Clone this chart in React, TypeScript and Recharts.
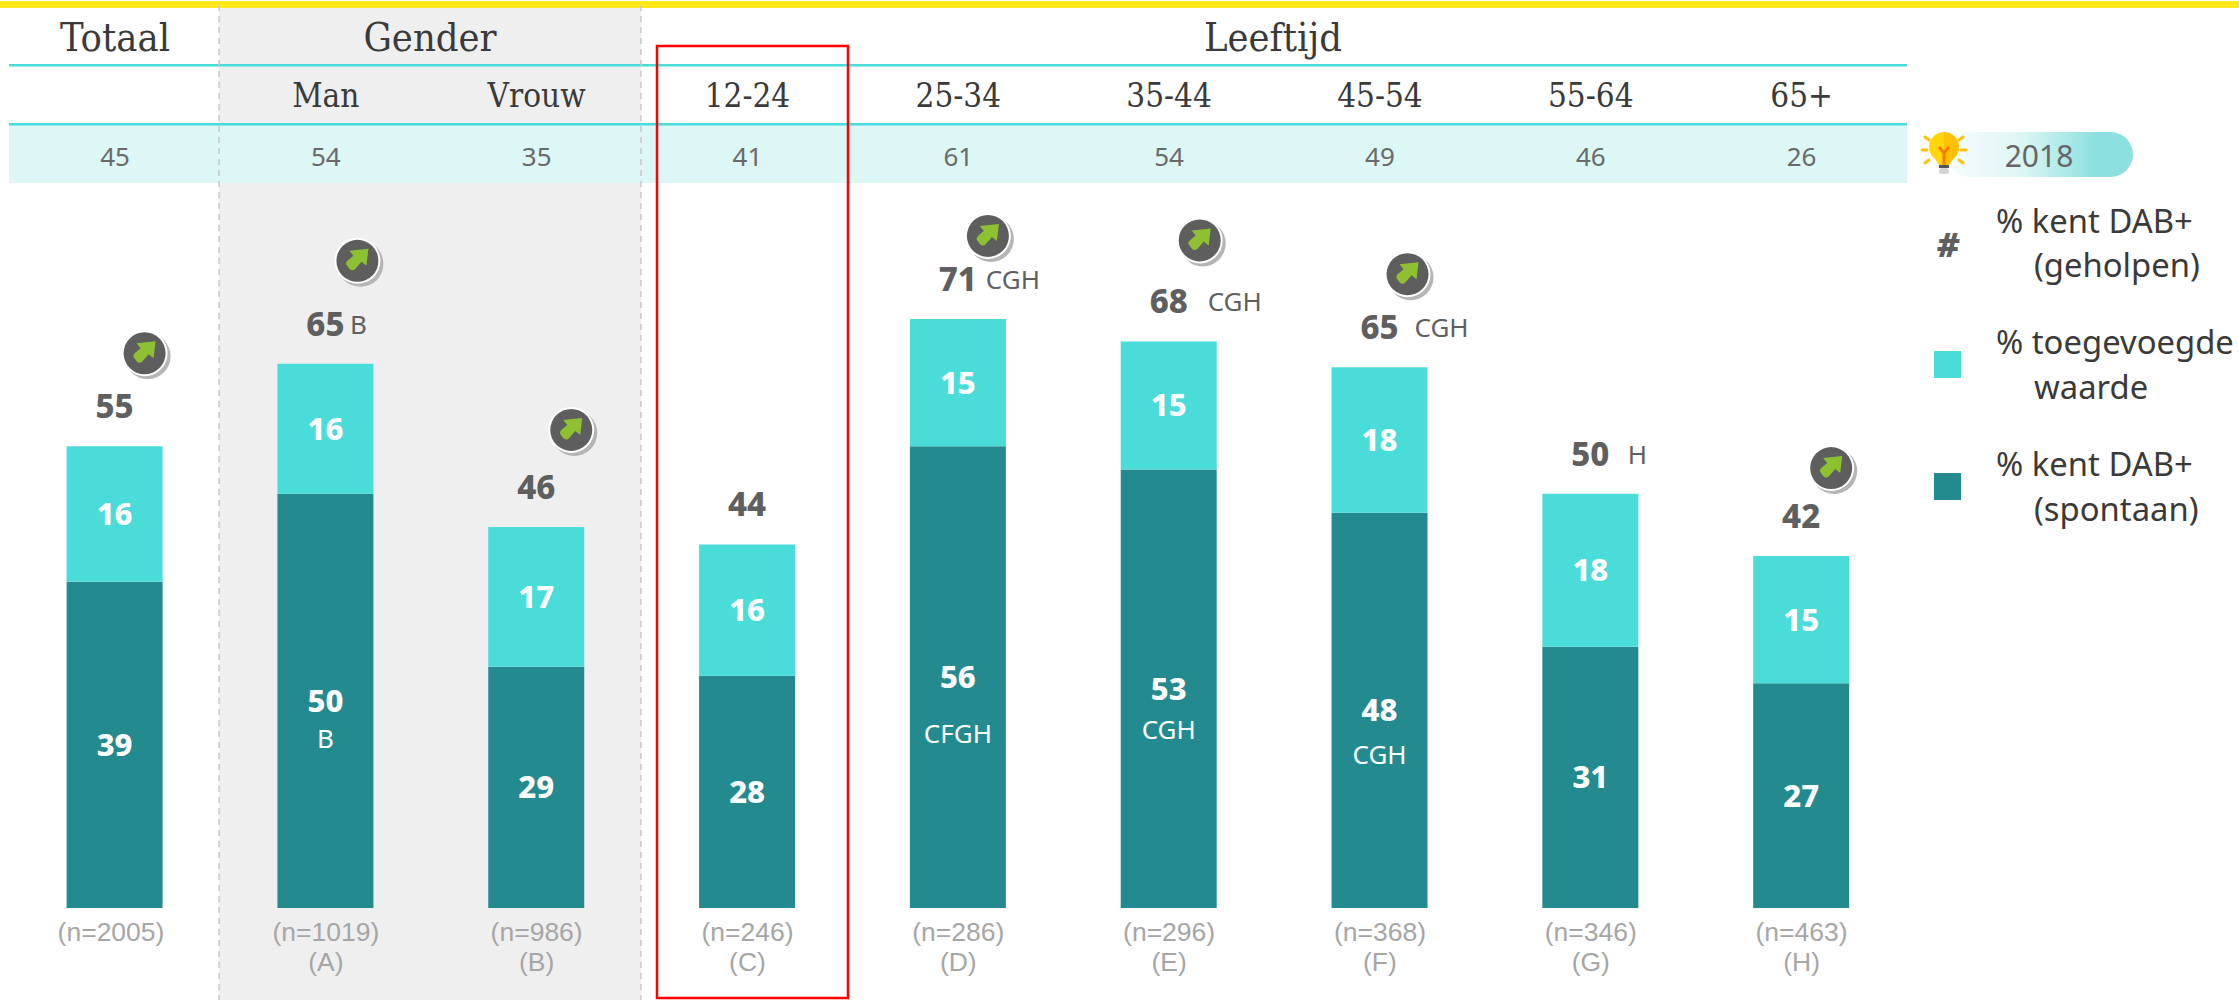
import React from 'react';
import { ComposedChart, Bar, XAxis, YAxis, LabelList } from 'recharts';

const columns = ['', 'Man', 'Vrouw', '12-24', '25-34', '35-44', '45-54', '55-64', '65+'];
const spontaneous = [39.2, 49.8, 29.0, 27.9, 55.5, 52.7, 47.5, 31.4, 27.0];
const added = [16.3, 15.6, 16.8, 15.8, 15.3, 15.4, 17.5, 18.4, 15.3];
const aided = [55, 65, 46, 44, 71, 68, 65, 50, 42];
const previous = [45, 54, 35, 41, 61, 54, 49, 46, 26];
const sampleSizes = ['(n=2005)', '(n=1019)', '(n=986)', '(n=246)', '(n=286)', '(n=296)', '(n=368)', '(n=346)', '(n=463)'];
const groupLetters = ['', '(A)', '(B)', '(C)', '(D)', '(E)', '(F)', '(G)', '(H)'];
const aidedSig = ['', 'B', '', '', 'CGH', 'CGH', 'CGH', 'H', ''];
const spontaneousSig = ['', 'B', '', '', 'CFGH', 'CGH', 'CGH', '', ''];

// annotation placement per column, relative to the top of the bar
const aidedSigDx = [0, 33, 0, 0, 55, 66, 62, 47, 0];
const spontaneousSigDy = [0, 37, 0, 0, 56, 40, 44, 0, 0];
const badgeDx = [30, 32, 35, 0, 30, 31, 28, 0, 30];
const badgeDy = [-93, -103, -97, 0, -83, -101, -93, 0, -88];
const hasBadge = [true, true, true, false, true, true, true, false, true];

const DARK = '#238B8F';
const LIGHT = '#4ADCD9';
const BAND = '#DCF7F5';
const GREY = '#5F5F5F';
const HEAD = '#3A3A3A';
const SANS = '"Noto Sans", sans-serif';
const SLAB = '"DejaVu Serif Condensed", "DejaVu Serif", serif';

const rows = columns.map((name, i) => ({
  name: name || 'Totaal',
  spontaneous: spontaneous[i],
  added: added[i],
}));

const ColumnTick = ({ x, index }: any) => (
  <g textAnchor="middle">
    <text x={x} y={107} fontFamily={SLAB} fontSize={33} fill={HEAD}>{columns[index]}</text>
    <text x={x} y={166} fontFamily={SANS} fontSize={26} fill="#6A6A6A">{previous[index]}</text>
    <text x={index === 0 ? x - 4 : x} y={941} fontFamily="Liberation Sans" fontSize={26.5} fill="#A6A6A6">{sampleSizes[index]}</text>
    <text x={x} y={971} fontFamily="Liberation Sans" fontSize={26.5} fill="#A6A6A6">{groupLetters[index]}</text>
  </g>
);

const InnerLabel = ({ x, y, width, height, value, index, sig }: any) => (
  <g textAnchor="middle" fill="#fff">
    <text x={x + width / 2} y={y + height / 2 + 11} fontFamily={SANS} fontSize={31} fontWeight={800}>
      {Math.round(value)}
    </text>
    {sig && sig[index] ? (
      <text x={x + width / 2} y={y + height / 2 + 10 + spontaneousSigDy[index]} fontFamily={SANS} fontSize={26}>
        {sig[index]}
      </text>
    ) : null}
  </g>
);

const Badge = ({ cx, cy }: any) => (
  <g transform={`translate(${cx},${cy})`}>
    <circle cx={3} cy={3} r={23} fill="#B5B5B5" />
    <circle r={23} fill="#fff" />
    <circle r={21} fill="#5E5E5E" />
    <path d="M11,-12 L9,5 L4,1 L-2,8 Q-5,11 -8,8 L-11,4 Q-12,2 -10,0 L-4,-5 L-8,-10 Z" fill="#8DC131" />
  </g>
);

const TopLabel = ({ x, y, width, index }: any) => {
  const cx = x + width / 2;
  return (
    <g>
      <text x={cx} y={y - 28} textAnchor="middle" fontFamily={SANS} fontSize={33} fontWeight={800} fill={GREY}>
        {aided[index]}
      </text>
      {aidedSig[index] ? (
        <text x={cx + aidedSigDx[index]} y={y - 30} textAnchor="middle" fontFamily={SANS} fontSize={26} fill={GREY}>
          {aidedSig[index]}
        </text>
      ) : null}
      {hasBadge[index] ? <Badge cx={cx + badgeDx[index]} cy={y + badgeDy[index]} /> : null}
    </g>
  );
};

const Bulb = () => (
  <g transform="translate(1944,150)">
    <g stroke="#FFC107" strokeWidth={3} strokeLinecap="round">
      <path d="M-22,0 H-17 M17,0 H22 M-19,-13 L-15,-10 M19,-13 L15,-10 M-19,13 L-15,10 M19,13 L15,10" />
    </g>
    <path d="M0,-18 A15,15 0 0 0 -9,9 L-5,15 H5 L9,9 A15,15 0 0 0 0,-18 Z" fill="#FFD60A" />
    <path d="M0,-18 A15,15 0 0 1 9,9 L5,15 H0 Z" fill="#FFC107" />
    <path d="M-5,-3 L0,3 L5,-3 M0,3 V15" stroke="#F57C00" strokeWidth={3} fill="none" />
    <rect x={-5} y={15} width={10} height={3} fill="#555" />
    <rect x={-5} y={18} width={10} height={6} rx={3} fill="#D5D5D5" />
  </g>
);

const Backdrop = () => (
  <svg width={2239} height={1000} style={{ position: 'absolute', left: 0, top: 0 }}>
    <defs>
      <linearGradient id="pill" x1="0" x2="1" y1="0" y2="0">
        <stop offset="0" stopColor="#F6FDFC" />
        <stop offset="0.4" stopColor="#DDF6F5" />
        <stop offset="0.8" stopColor="#8CE0DF" />
        <stop offset="1" stopColor="#8CE0DF" />
      </linearGradient>
    </defs>
    <rect x={219} y={8} width={422} height={992} fill="#EFEFEF" />
    <rect x={0} y={1} width={2239} height={7} fill="#FFE81A" />
    <rect x={9} y={124} width={1898} height={59} fill={BAND} />
    <rect x={9} y={64} width={1898} height={2.5} fill={LIGHT} />
    <rect x={9} y={123} width={1898} height={2.5} fill={LIGHT} />
    <path d="M219,5 V1000 M641,5 V1000" stroke="#C8C8C8" strokeWidth={1.5} strokeDasharray="6 5" />
    <g textAnchor="middle" fontFamily={SLAB} fontSize={39.5} fill={HEAD}>
      <text x={115} y={51}>Totaal</text>
      <text x={430} y={51}>Gender</text>
      <text x={1273} y={51}>Leeftijd</text>
    </g>
    <rect x={657} y={46} width={191} height={952} fill="none" stroke="#FF0000" strokeWidth={2.5} />

    <rect x={1947} y={132} width={186} height={45} rx={22.5} fill="url(#pill)" />
    <text x={2039} y={167} textAnchor="middle" fontFamily={SANS} fontSize={30} fill="#666">2018</text>
    <Bulb />

    <text x={1948} y={257} textAnchor="middle" fontFamily={SANS} fontSize={34} fontWeight={900} fontStyle="italic" fill={GREY}>#</text>
    <rect x={1934} y={351} width={27} height={27} fill={LIGHT} />
    <rect x={1934} y={473} width={27} height={27} fill={DARK} />
    <g fontFamily={SANS} fontSize={32.8} fill={HEAD}>
      <text x={1996} y={233}>% kent DAB+</text>
      <text x={2034} y={277}>(geholpen)</text>
      <text x={1996} y={354}>% toegevoegde</text>
      <text x={2034} y={399}>waarde</text>
      <text x={1996} y={476}>% kent DAB+</text>
      <text x={2034} y={521}>(spontaan)</text>
    </g>
  </svg>
);

export default function App() {
  return (
    <div style={{ position: 'absolute', left: 0, top: 0, width: 2239, height: 1000, background: '#fff' }}>
      <Backdrop />
      <div style={{ position: 'absolute', left: 0, top: 0 }}>
        <ComposedChart
          width={2239}
          height={1000}
          data={rows}
          margin={{ top: 76, right: 332, bottom: 62, left: 9.6 }}
        >
          <XAxis dataKey="name" height={30} axisLine={false} tickLine={false} interval={0} tick={<ColumnTick />} />
          <YAxis hide domain={[0, 100]} />
          <Bar dataKey="spontaneous" stackId="a" fill={DARK} barSize={96} isAnimationActive={false}>
            <LabelList dataKey="spontaneous" content={<InnerLabel sig={spontaneousSig} />} />
          </Bar>
          <Bar dataKey="added" stackId="a" fill={LIGHT} barSize={96} isAnimationActive={false}>
            <LabelList dataKey="added" content={<InnerLabel />} />
            <LabelList dataKey="added" content={<TopLabel />} />
          </Bar>
        </ComposedChart>
      </div>
    </div>
  );
}
